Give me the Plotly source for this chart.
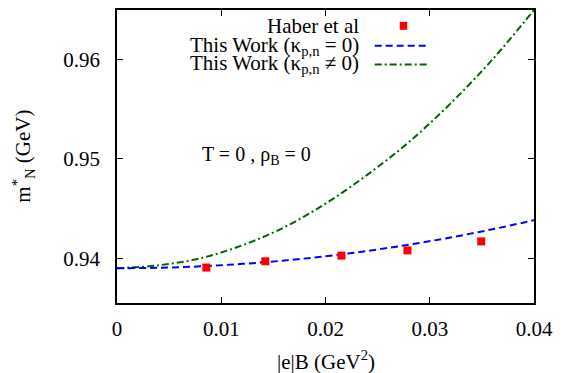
import plotly.graph_objects as go

# Data
haber_x = [0.00857, 0.01423, 0.02153, 0.02786, 0.03494]
haber_y = [0.93907, 0.93970, 0.94027, 0.94080, 0.94170]

curve_x = [0.0, 0.004, 0.008, 0.012, 0.016, 0.020, 0.024, 0.028, 0.032, 0.036, 0.040]
kappa0_y = [0.93900, 0.93905, 0.93919, 0.93944, 0.93977, 0.94021, 0.94074, 0.94137, 0.94210, 0.94292, 0.94384]
kappa_y = [0.93900, 0.93930, 0.94000, 0.94130, 0.94310, 0.94550, 0.94840, 0.95170, 0.95560, 0.96000, 0.96500]

x_ticks = [0, 0.01, 0.02, 0.03, 0.04]
x_tick_labels = ["0", "0.01", "0.02", "0.03", "0.04"]
y_ticks = [0.94, 0.95, 0.96]
y_tick_labels = ["0.94", "0.95", "0.96"]

FONT = "'Liberation Serif', 'Times New Roman', Times, serif"
BLUE = "#0000ff"
GREEN = "#006400"
RED = "#ff0000"
FS = 21

fig = go.Figure()
fig.add_trace(go.Scatter(x=curve_x, y=kappa_y, mode="lines", line=dict(color=GREEN, width=2, dash="7px,3px,2px,3px", shape="spline"), showlegend=False))
fig.add_trace(go.Scatter(x=curve_x, y=kappa0_y, mode="lines", line=dict(color=BLUE, width=2, dash="7px,4px", shape="spline"), showlegend=False))
fig.add_trace(go.Scatter(x=haber_x, y=haber_y, mode="markers", marker=dict(symbol="square", size=8, color=RED, line=dict(width=0)), showlegend=False))

axis_common = dict(
    showgrid=False, zeroline=False, showline=True, linecolor="black", linewidth=1.5,
    mirror="ticks", ticks="inside", ticklen=6, tickwidth=1.2, tickcolor="black",
    tickfont=dict(family=FONT, size=FS, color="black"),
)

fig.update_xaxes(range=[0, 0.04], tickvals=x_ticks, ticktext=x_tick_labels, ticklabelstandoff=6, **axis_common)
fig.update_yaxes(range=[0.9355, 0.965], tickvals=y_ticks, ticktext=y_tick_labels, ticklabelstandoff=11, **axis_common)

annotations = [
    dict(text="|e|B (GeV<sup>2</sup>)", x=0.5, y=-0.145, xref="paper", yref="paper", xanchor="center", yanchor="top", showarrow=False, font=dict(family=FONT, size=FS, color="black")),
    dict(text="m<sup>*</sup><sub>N</sub> (GeV)", x=-0.225, y=0.50, xref="paper", yref="paper", xanchor="center", yanchor="middle", textangle=-90, showarrow=False, font=dict(family=FONT, size=FS, color="black")),
    dict(text="T = 0 , ρ<sub>B</sub> = 0", x=0.198, y=0.505, xref="paper", yref="paper", xanchor="left", yanchor="middle", showarrow=False, font=dict(family=FONT, size=20, color="black")),
]
legend_rows = [("Haber et al", 0.946), ("This Work (κ<sub>p,n</sub> = 0)", 0.878), ("This Work (κ<sub>p,n</sub> ≠ 0)", 0.814)]
for txt, yy in legend_rows:
    annotations.append(dict(text=txt, x=0.585, y=yy, xref="paper", yref="paper", xanchor="right", yanchor="middle", showarrow=False, font=dict(family=FONT, size=FS, color="black")))

shapes = [
    dict(type="rect", xref="paper", yref="paper", x0=0.678, x1=0.696, y0=0.946 - 0.0135, y1=0.946 + 0.0135, fillcolor=RED, line=dict(width=0)),
    dict(type="line", xref="paper", yref="paper", x0=0.618, x1=0.743, y0=0.878, y1=0.878, line=dict(color=BLUE, width=2, dash="7px,4px")),
    dict(type="line", xref="paper", yref="paper", x0=0.618, x1=0.743, y0=0.814, y1=0.814, line=dict(color=GREEN, width=2, dash="7px,3px,2px,3px")),
]

fig.update_layout(
    width=561, height=373,
    margin=dict(l=117, r=20, t=8, b=70),
    paper_bgcolor="white", plot_bgcolor="white",
    annotations=annotations, shapes=shapes,
    font=dict(family=FONT, color="black"),
)

fig.write_html("out.html")
